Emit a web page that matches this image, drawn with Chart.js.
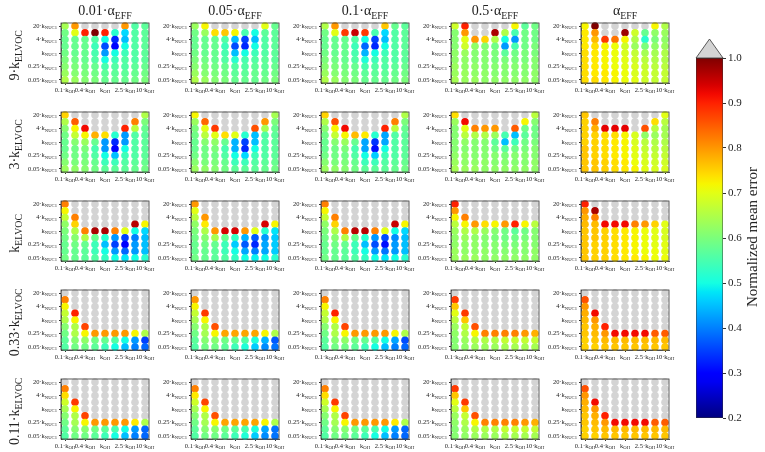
<!DOCTYPE html>
<html>
<head>
<meta charset="utf-8">
<script src="https://cdn.jsdelivr.net/npm/chart.js@4/dist/chart.umd.min.js"></script>
<style>
    body { margin: 0; background: #fff; width: 765px; height: 452px; position: relative; overflow: hidden; font-family: "Liberation Serif", serif; color: #222; }
    canvas { position: absolute; }
    .coltitle { position: absolute; width: 130px; text-align: center; font-size: 14px; line-height: 16px; }
    .rowtitle { position: absolute; width: 110px; text-align: center; font-size: 14px; line-height: 16px; transform: rotate(-90deg); }
    .cblabel { position: absolute; width: 220px; text-align: center; font-size: 15px; line-height: 16px; transform: rotate(-90deg); }
    sub { font-size: 70%; }
</style>
</head>
<body>
<script>
// axis ticks (9x9 grid, labels every other step)
const xTickVals = [0, 2, 4, 6, 8]
const xTickLabels = ["0.1·k_OH", "0.4·k_OH", "k_OH", "2.5·k_OH", "10·k_OH"]
const yTickVals = [0, 2, 4, 6, 8]
const yTickLabels = ["20·k_NUC1", "4·k_NUC1", "k_NUC1", "0.25·k_NUC1", "0.05·k_NUC1"]
const colTitles = ["0.01·α_EFF", "0.05·α_EFF", "0.1·α_EFF", "0.5·α_EFF", "α_EFF"]
const rowTitles = ["9·k_ELVOC", "3·k_ELVOC", "k_ELVOC", "0.33·k_ELVOC", "0.11·k_ELVOC"]
const cbTicks = [0.2, 0.3, 0.4, 0.5, 0.6, 0.7, 0.8, 0.9, 1.0]

// normalized mean error, rows top (20·k_NUC1) -> bottom, cols 0.1·k_OH -> 10·k_OH
// values above 1.0 are drawn grey
const k9_a001 = [
    [0.64, 0.80, 1.1, 1.1, 1.1, 1.1, 0.80, 0.56, 0.57],
    [0.59, 0.70, 0.90, 1.00, 0.90, 0.52, 0.47, 0.56, 0.57],
    [0.58, 0.58, 0.58, 0.56, 0.50, 0.33, 0.45, 0.56, 0.57],
    [0.58, 0.58, 0.58, 0.54, 0.36, 0.30, 0.50, 0.56, 0.57],
    [0.59, 0.58, 0.58, 0.55, 0.42, 0.50, 0.54, 0.56, 0.57],
    [0.60, 0.59, 0.58, 0.56, 0.50, 0.54, 0.56, 0.56, 0.57],
    [0.61, 0.60, 0.59, 0.58, 0.55, 0.56, 0.56, 0.57, 0.58],
    [0.63, 0.61, 0.60, 0.59, 0.57, 0.57, 0.57, 0.58, 0.59],
    [0.65, 0.63, 0.61, 0.60, 0.58, 0.58, 0.58, 0.59, 0.60],
]
const k9_a005 = [
    [0.63, 0.72, 1.1, 1.1, 1.1, 1.1, 1.1, 0.70, 0.58],
    [0.59, 0.63, 0.74, 0.76, 0.72, 0.55, 0.50, 0.57, 0.57],
    [0.58, 0.58, 0.58, 0.56, 0.45, 0.35, 0.45, 0.56, 0.57],
    [0.58, 0.58, 0.58, 0.54, 0.36, 0.33, 0.50, 0.56, 0.57],
    [0.59, 0.58, 0.58, 0.55, 0.45, 0.50, 0.54, 0.56, 0.57],
    [0.60, 0.59, 0.58, 0.56, 0.52, 0.55, 0.56, 0.57, 0.57],
    [0.61, 0.60, 0.59, 0.58, 0.56, 0.56, 0.57, 0.57, 0.58],
    [0.63, 0.61, 0.60, 0.59, 0.57, 0.57, 0.58, 0.58, 0.59],
    [0.65, 0.63, 0.61, 0.60, 0.58, 0.58, 0.58, 0.59, 0.60],
]
const k9_a01 = [
    [0.65, 0.80, 1.1, 1.1, 1.1, 1.1, 0.76, 0.58, 0.57],
    [0.59, 0.70, 0.88, 0.95, 0.88, 0.55, 0.47, 0.56, 0.57],
    [0.58, 0.58, 0.58, 0.56, 0.50, 0.35, 0.45, 0.56, 0.57],
    [0.58, 0.58, 0.58, 0.54, 0.38, 0.33, 0.50, 0.56, 0.57],
    [0.59, 0.58, 0.58, 0.55, 0.44, 0.50, 0.54, 0.56, 0.57],
    [0.60, 0.59, 0.58, 0.56, 0.51, 0.54, 0.56, 0.56, 0.57],
    [0.61, 0.60, 0.59, 0.58, 0.55, 0.56, 0.56, 0.57, 0.58],
    [0.63, 0.61, 0.60, 0.59, 0.57, 0.57, 0.57, 0.58, 0.59],
    [0.65, 0.63, 0.61, 0.60, 0.58, 0.58, 0.58, 0.59, 0.60],
]
const k9_a05 = [
    [0.68, 0.90, 1.1, 1.1, 1.1, 1.1, 0.72, 0.57, 0.59],
    [0.61, 0.80, 1.1, 1.1, 0.97, 0.65, 0.55, 0.59, 0.59],
    [0.61, 0.70, 0.80, 0.75, 0.65, 0.50, 0.42, 0.59, 0.59],
    [0.61, 0.68, 0.62, 0.61, 0.59, 0.42, 0.55, 0.59, 0.60],
    [0.62, 0.63, 0.61, 0.61, 0.60, 0.57, 0.59, 0.60, 0.60],
    [0.62, 0.62, 0.61, 0.61, 0.60, 0.60, 0.60, 0.60, 0.61],
    [0.63, 0.62, 0.62, 0.61, 0.61, 0.61, 0.61, 0.61, 0.61],
    [0.63, 0.63, 0.62, 0.62, 0.61, 0.61, 0.61, 0.61, 0.62],
    [0.64, 0.63, 0.63, 0.62, 0.62, 0.62, 0.62, 0.62, 0.62],
]
const k9_a1 = [
    [0.72, 1.00, 1.1, 1.1, 1.1, 1.1, 1.1, 0.72, 0.65],
    [0.73, 0.80, 1.1, 1.1, 0.98, 0.68, 0.58, 0.62, 0.63],
    [0.73, 0.77, 0.88, 0.83, 0.72, 0.65, 0.52, 0.60, 0.62],
    [0.73, 0.74, 0.72, 0.71, 0.68, 0.63, 0.60, 0.62, 0.63],
    [0.74, 0.73, 0.72, 0.71, 0.69, 0.67, 0.64, 0.64, 0.65],
    [0.74, 0.73, 0.72, 0.71, 0.70, 0.68, 0.66, 0.65, 0.65],
    [0.74, 0.73, 0.72, 0.71, 0.70, 0.69, 0.67, 0.66, 0.66],
    [0.74, 0.73, 0.73, 0.72, 0.71, 0.69, 0.68, 0.67, 0.67],
    [0.74, 0.74, 0.73, 0.72, 0.71, 0.70, 0.68, 0.67, 0.67],
]
const k3_a001 = [
    [0.75, 1.1, 1.1, 1.1, 1.1, 1.1, 1.1, 1.1, 0.65],
    [0.65, 0.85, 1.1, 1.1, 1.1, 1.1, 1.1, 0.82, 0.60],
    [0.61, 0.72, 0.92, 1.1, 1.1, 1.1, 0.90, 0.66, 0.58],
    [0.59, 0.67, 0.72, 0.78, 0.74, 0.52, 0.42, 0.56, 0.57],
    [0.58, 0.61, 0.63, 0.58, 0.42, 0.33, 0.42, 0.56, 0.57],
    [0.58, 0.59, 0.60, 0.55, 0.42, 0.30, 0.50, 0.56, 0.57],
    [0.59, 0.59, 0.59, 0.56, 0.50, 0.45, 0.54, 0.56, 0.57],
    [0.61, 0.60, 0.60, 0.58, 0.54, 0.54, 0.56, 0.57, 0.58],
    [0.63, 0.62, 0.61, 0.59, 0.57, 0.57, 0.57, 0.58, 0.59],
]
const k3_a005 = [
    [0.72, 1.1, 1.1, 1.1, 1.1, 1.1, 1.1, 1.1, 0.64],
    [0.63, 0.84, 1.1, 1.1, 1.1, 1.1, 1.1, 0.80, 0.60],
    [0.60, 0.70, 0.88, 1.1, 1.1, 1.1, 0.86, 0.64, 0.58],
    [0.59, 0.66, 0.70, 0.74, 0.70, 0.52, 0.45, 0.56, 0.57],
    [0.58, 0.61, 0.62, 0.58, 0.44, 0.35, 0.45, 0.56, 0.57],
    [0.58, 0.59, 0.60, 0.55, 0.44, 0.33, 0.50, 0.56, 0.57],
    [0.59, 0.59, 0.59, 0.56, 0.50, 0.47, 0.54, 0.56, 0.57],
    [0.61, 0.60, 0.60, 0.58, 0.54, 0.54, 0.56, 0.57, 0.58],
    [0.63, 0.62, 0.61, 0.59, 0.57, 0.57, 0.57, 0.58, 0.59],
]
const k3_a01 = [
    [0.75, 1.1, 1.1, 1.1, 1.1, 1.1, 1.1, 1.1, 0.65],
    [0.65, 0.86, 1.1, 1.1, 1.1, 1.1, 1.1, 0.82, 0.60],
    [0.61, 0.72, 0.92, 1.1, 1.1, 1.1, 0.90, 0.66, 0.58],
    [0.59, 0.67, 0.72, 0.77, 0.73, 0.52, 0.43, 0.56, 0.57],
    [0.58, 0.61, 0.63, 0.58, 0.43, 0.34, 0.43, 0.56, 0.57],
    [0.58, 0.59, 0.60, 0.55, 0.43, 0.31, 0.50, 0.56, 0.57],
    [0.59, 0.59, 0.59, 0.56, 0.50, 0.46, 0.54, 0.56, 0.57],
    [0.61, 0.60, 0.60, 0.58, 0.54, 0.54, 0.56, 0.57, 0.58],
    [0.63, 0.62, 0.61, 0.59, 0.57, 0.57, 0.57, 0.58, 0.59],
]
const k3_a05 = [
    [0.74, 1.1, 1.1, 1.1, 1.1, 1.1, 1.1, 1.1, 0.66],
    [0.63, 0.92, 1.1, 1.1, 1.1, 1.1, 1.1, 0.72, 0.61],
    [0.61, 0.70, 0.82, 0.80, 0.80, 1.1, 0.85, 0.59, 0.59],
    [0.61, 0.66, 0.65, 0.65, 0.63, 0.55, 0.45, 0.57, 0.59],
    [0.61, 0.62, 0.61, 0.61, 0.57, 0.45, 0.54, 0.59, 0.60],
    [0.61, 0.61, 0.61, 0.61, 0.59, 0.57, 0.59, 0.60, 0.61],
    [0.62, 0.62, 0.61, 0.61, 0.61, 0.60, 0.61, 0.61, 0.61],
    [0.63, 0.62, 0.62, 0.62, 0.61, 0.61, 0.61, 0.61, 0.62],
    [0.64, 0.63, 0.63, 0.62, 0.62, 0.62, 0.62, 0.62, 0.62],
]
const k3_a1 = [
    [0.76, 1.1, 1.1, 1.1, 1.1, 1.1, 1.1, 1.1, 0.70],
    [0.75, 0.82, 1.1, 1.1, 1.1, 1.1, 1.1, 0.74, 0.66],
    [0.75, 0.78, 0.93, 0.93, 0.93, 1.1, 0.86, 0.66, 0.64],
    [0.75, 0.75, 0.74, 0.74, 0.72, 0.69, 0.62, 0.63, 0.64],
    [0.75, 0.75, 0.74, 0.73, 0.72, 0.69, 0.66, 0.65, 0.65],
    [0.76, 0.75, 0.74, 0.73, 0.72, 0.70, 0.67, 0.66, 0.66],
    [0.76, 0.75, 0.74, 0.73, 0.72, 0.70, 0.68, 0.67, 0.67],
    [0.76, 0.76, 0.75, 0.74, 0.73, 0.71, 0.69, 0.68, 0.68],
    [0.76, 0.76, 0.75, 0.74, 0.73, 0.72, 0.70, 0.69, 0.69],
]
const k1_a001 = [
    [0.82, 1.1, 1.1, 1.1, 1.1, 1.1, 1.1, 1.1, 1.1],
    [0.72, 1.1, 1.1, 1.1, 1.1, 1.1, 1.1, 1.1, 1.1],
    [0.67, 0.82, 1.1, 1.1, 1.1, 1.1, 1.1, 1.1, 1.1],
    [0.62, 0.75, 1.1, 1.1, 1.1, 1.1, 1.1, 0.96, 0.72],
    [0.60, 0.65, 0.82, 0.97, 0.97, 0.82, 0.70, 0.50, 0.47],
    [0.59, 0.61, 0.65, 0.58, 0.52, 0.42, 0.35, 0.40, 0.45],
    [0.58, 0.59, 0.58, 0.54, 0.45, 0.35, 0.30, 0.42, 0.45],
    [0.58, 0.58, 0.57, 0.54, 0.50, 0.42, 0.38, 0.42, 0.45],
    [0.59, 0.58, 0.57, 0.56, 0.53, 0.50, 0.48, 0.50, 0.52],
]
const k1_a005 = [
    [0.80, 1.1, 1.1, 1.1, 1.1, 1.1, 1.1, 1.1, 1.1],
    [0.70, 1.1, 1.1, 1.1, 1.1, 1.1, 1.1, 1.1, 1.1],
    [0.66, 0.80, 1.1, 1.1, 1.1, 1.1, 1.1, 1.1, 1.1],
    [0.62, 0.73, 1.1, 1.1, 1.1, 1.1, 1.1, 0.94, 0.72],
    [0.60, 0.65, 0.80, 0.94, 0.94, 0.80, 0.70, 0.52, 0.48],
    [0.59, 0.61, 0.64, 0.58, 0.53, 0.44, 0.37, 0.42, 0.46],
    [0.58, 0.59, 0.58, 0.54, 0.46, 0.37, 0.33, 0.43, 0.46],
    [0.58, 0.58, 0.57, 0.54, 0.50, 0.43, 0.40, 0.43, 0.46],
    [0.59, 0.58, 0.57, 0.56, 0.53, 0.50, 0.49, 0.50, 0.52],
]
const k1_a01 = [
    [0.82, 1.1, 1.1, 1.1, 1.1, 1.1, 1.1, 1.1, 1.1],
    [0.72, 1.1, 1.1, 1.1, 1.1, 1.1, 1.1, 1.1, 1.1],
    [0.67, 0.82, 1.1, 1.1, 1.1, 1.1, 1.1, 1.1, 1.1],
    [0.62, 0.75, 1.1, 1.1, 1.1, 1.1, 1.1, 0.95, 0.72],
    [0.60, 0.65, 0.82, 0.96, 0.96, 0.82, 0.70, 0.50, 0.47],
    [0.59, 0.61, 0.65, 0.58, 0.52, 0.42, 0.36, 0.41, 0.45],
    [0.58, 0.59, 0.58, 0.54, 0.45, 0.36, 0.31, 0.42, 0.45],
    [0.58, 0.58, 0.57, 0.54, 0.50, 0.42, 0.39, 0.42, 0.45],
    [0.59, 0.58, 0.57, 0.56, 0.53, 0.50, 0.48, 0.50, 0.52],
]
const k1_a05 = [
    [0.90, 1.1, 1.1, 1.1, 1.1, 1.1, 1.1, 1.1, 1.1],
    [0.80, 1.1, 1.1, 1.1, 1.1, 1.1, 1.1, 1.1, 1.1],
    [0.72, 0.82, 1.1, 1.1, 1.1, 1.1, 1.1, 1.1, 1.1],
    [0.66, 0.72, 0.80, 0.74, 0.72, 0.80, 0.90, 0.72, 0.66],
    [0.63, 0.65, 0.65, 0.63, 0.61, 0.59, 0.57, 0.59, 0.61],
    [0.62, 0.63, 0.62, 0.61, 0.60, 0.59, 0.59, 0.60, 0.61],
    [0.62, 0.62, 0.62, 0.61, 0.61, 0.60, 0.60, 0.61, 0.61],
    [0.63, 0.62, 0.62, 0.62, 0.61, 0.61, 0.61, 0.61, 0.62],
    [0.63, 0.63, 0.63, 0.62, 0.62, 0.62, 0.62, 0.62, 0.62],
]
const k1_a1 = [
    [0.90, 1.1, 1.1, 1.1, 1.1, 1.1, 1.1, 1.1, 1.1],
    [0.80, 0.97, 1.1, 1.1, 1.1, 1.1, 1.1, 1.1, 1.1],
    [0.78, 0.82, 1.1, 1.1, 1.1, 1.1, 1.1, 1.1, 1.1],
    [0.77, 0.77, 0.92, 0.92, 0.92, 0.82, 0.80, 0.75, 0.70],
    [0.76, 0.76, 0.75, 0.74, 0.73, 0.72, 0.71, 0.70, 0.69],
    [0.76, 0.76, 0.75, 0.74, 0.73, 0.72, 0.71, 0.70, 0.69],
    [0.76, 0.75, 0.75, 0.74, 0.73, 0.72, 0.71, 0.70, 0.70],
    [0.76, 0.75, 0.75, 0.74, 0.73, 0.72, 0.71, 0.71, 0.70],
    [0.76, 0.75, 0.75, 0.74, 0.73, 0.73, 0.72, 0.71, 0.71],
]
const k033_a001 = [
    [1.1, 1.1, 1.1, 1.1, 1.1, 1.1, 1.1, 1.1, 1.1],
    [0.82, 1.1, 1.1, 1.1, 1.1, 1.1, 1.1, 1.1, 1.1],
    [0.72, 1.1, 1.1, 1.1, 1.1, 1.1, 1.1, 1.1, 1.1],
    [0.67, 0.90, 1.1, 1.1, 1.1, 1.1, 1.1, 1.1, 1.1],
    [0.65, 0.72, 1.1, 1.1, 1.1, 1.1, 1.1, 1.1, 1.1],
    [0.61, 0.65, 0.87, 1.1, 1.1, 1.1, 1.1, 1.1, 1.1],
    [0.59, 0.65, 0.72, 0.80, 0.80, 0.80, 0.80, 0.72, 0.65],
    [0.57, 0.61, 0.62, 0.59, 0.58, 0.56, 0.50, 0.42, 0.35],
    [0.56, 0.59, 0.59, 0.57, 0.54, 0.50, 0.45, 0.40, 0.38],
]
const k033_a005 = [
    [1.1, 1.1, 1.1, 1.1, 1.1, 1.1, 1.1, 1.1, 1.1],
    [0.80, 1.1, 1.1, 1.1, 1.1, 1.1, 1.1, 1.1, 1.1],
    [0.72, 1.1, 1.1, 1.1, 1.1, 1.1, 1.1, 1.1, 1.1],
    [0.67, 0.88, 1.1, 1.1, 1.1, 1.1, 1.1, 1.1, 1.1],
    [0.64, 0.72, 1.1, 1.1, 1.1, 1.1, 1.1, 1.1, 1.1],
    [0.61, 0.65, 0.86, 1.1, 1.1, 1.1, 1.1, 1.1, 1.1],
    [0.59, 0.64, 0.72, 0.79, 0.79, 0.79, 0.79, 0.72, 0.65],
    [0.57, 0.61, 0.61, 0.59, 0.58, 0.56, 0.51, 0.44, 0.37],
    [0.56, 0.59, 0.59, 0.57, 0.54, 0.51, 0.46, 0.41, 0.39],
]
const k033_a01 = [
    [1.1, 1.1, 1.1, 1.1, 1.1, 1.1, 1.1, 1.1, 1.1],
    [0.82, 1.1, 1.1, 1.1, 1.1, 1.1, 1.1, 1.1, 1.1],
    [0.72, 1.1, 1.1, 1.1, 1.1, 1.1, 1.1, 1.1, 1.1],
    [0.67, 0.90, 1.1, 1.1, 1.1, 1.1, 1.1, 1.1, 1.1],
    [0.65, 0.72, 1.1, 1.1, 1.1, 1.1, 1.1, 1.1, 1.1],
    [0.61, 0.65, 0.87, 1.1, 1.1, 1.1, 1.1, 1.1, 1.1],
    [0.59, 0.65, 0.72, 0.80, 0.80, 0.80, 0.80, 0.72, 0.65],
    [0.57, 0.61, 0.62, 0.59, 0.58, 0.56, 0.50, 0.43, 0.36],
    [0.56, 0.59, 0.59, 0.57, 0.54, 0.50, 0.45, 0.40, 0.38],
]
const k033_a05 = [
    [1.1, 1.1, 1.1, 1.1, 1.1, 1.1, 1.1, 1.1, 1.1],
    [0.88, 1.1, 1.1, 1.1, 1.1, 1.1, 1.1, 1.1, 1.1],
    [0.76, 1.1, 1.1, 1.1, 1.1, 1.1, 1.1, 1.1, 1.1],
    [0.70, 0.88, 1.1, 1.1, 1.1, 1.1, 1.1, 1.1, 1.1],
    [0.66, 0.76, 1.1, 1.1, 1.1, 1.1, 1.1, 1.1, 1.1],
    [0.63, 0.67, 0.86, 1.1, 1.1, 1.1, 1.1, 1.1, 1.1],
    [0.62, 0.65, 0.72, 0.82, 0.82, 0.82, 0.82, 0.80, 0.78],
    [0.61, 0.63, 0.65, 0.65, 0.65, 0.67, 0.67, 0.67, 0.67],
    [0.61, 0.62, 0.63, 0.63, 0.63, 0.64, 0.64, 0.64, 0.64],
]
const k033_a1 = [
    [1.1, 1.1, 1.1, 1.1, 1.1, 1.1, 1.1, 1.1, 1.1],
    [0.86, 1.1, 1.1, 1.1, 1.1, 1.1, 1.1, 1.1, 1.1],
    [0.80, 1.1, 1.1, 1.1, 1.1, 1.1, 1.1, 1.1, 1.1],
    [0.78, 0.92, 1.1, 1.1, 1.1, 1.1, 1.1, 1.1, 1.1],
    [0.77, 0.80, 1.1, 1.1, 1.1, 1.1, 1.1, 1.1, 1.1],
    [0.76, 0.78, 0.90, 1.1, 1.1, 1.1, 1.1, 1.1, 1.1],
    [0.76, 0.77, 0.80, 0.92, 0.92, 0.92, 0.92, 0.85, 0.85],
    [0.75, 0.76, 0.77, 0.77, 0.77, 0.77, 0.77, 0.77, 0.77],
    [0.75, 0.75, 0.76, 0.76, 0.76, 0.76, 0.76, 0.76, 0.76],
]
const k011_a001 = [
    [1.1, 1.1, 1.1, 1.1, 1.1, 1.1, 1.1, 1.1, 1.1],
    [0.82, 1.1, 1.1, 1.1, 1.1, 1.1, 1.1, 1.1, 1.1],
    [0.74, 1.1, 1.1, 1.1, 1.1, 1.1, 1.1, 1.1, 1.1],
    [0.68, 0.88, 1.1, 1.1, 1.1, 1.1, 1.1, 1.1, 1.1],
    [0.64, 0.72, 1.1, 1.1, 1.1, 1.1, 1.1, 1.1, 1.1],
    [0.61, 0.65, 0.87, 1.1, 1.1, 1.1, 1.1, 1.1, 1.1],
    [0.59, 0.64, 0.72, 0.80, 0.80, 0.80, 0.80, 0.73, 0.65],
    [0.57, 0.61, 0.61, 0.59, 0.57, 0.55, 0.50, 0.42, 0.38],
    [0.56, 0.59, 0.59, 0.57, 0.54, 0.50, 0.45, 0.40, 0.38],
]
const k011_a005 = [
    [1.1, 1.1, 1.1, 1.1, 1.1, 1.1, 1.1, 1.1, 1.1],
    [0.82, 1.1, 1.1, 1.1, 1.1, 1.1, 1.1, 1.1, 1.1],
    [0.73, 1.1, 1.1, 1.1, 1.1, 1.1, 1.1, 1.1, 1.1],
    [0.68, 0.87, 1.1, 1.1, 1.1, 1.1, 1.1, 1.1, 1.1],
    [0.64, 0.72, 1.1, 1.1, 1.1, 1.1, 1.1, 1.1, 1.1],
    [0.61, 0.65, 0.86, 1.1, 1.1, 1.1, 1.1, 1.1, 1.1],
    [0.59, 0.64, 0.72, 0.79, 0.79, 0.79, 0.79, 0.72, 0.65],
    [0.57, 0.61, 0.61, 0.59, 0.57, 0.55, 0.51, 0.43, 0.39],
    [0.56, 0.59, 0.59, 0.57, 0.54, 0.51, 0.46, 0.41, 0.39],
]
const k011_a01 = [
    [1.1, 1.1, 1.1, 1.1, 1.1, 1.1, 1.1, 1.1, 1.1],
    [0.82, 1.1, 1.1, 1.1, 1.1, 1.1, 1.1, 1.1, 1.1],
    [0.74, 1.1, 1.1, 1.1, 1.1, 1.1, 1.1, 1.1, 1.1],
    [0.68, 0.88, 1.1, 1.1, 1.1, 1.1, 1.1, 1.1, 1.1],
    [0.64, 0.72, 1.1, 1.1, 1.1, 1.1, 1.1, 1.1, 1.1],
    [0.61, 0.65, 0.87, 1.1, 1.1, 1.1, 1.1, 1.1, 1.1],
    [0.59, 0.64, 0.72, 0.80, 0.80, 0.80, 0.80, 0.73, 0.65],
    [0.57, 0.61, 0.61, 0.59, 0.57, 0.55, 0.50, 0.42, 0.38],
    [0.56, 0.59, 0.59, 0.57, 0.54, 0.50, 0.45, 0.40, 0.38],
]
const k011_a05 = [
    [1.1, 1.1, 1.1, 1.1, 1.1, 1.1, 1.1, 1.1, 1.1],
    [0.88, 1.1, 1.1, 1.1, 1.1, 1.1, 1.1, 1.1, 1.1],
    [0.76, 1.1, 1.1, 1.1, 1.1, 1.1, 1.1, 1.1, 1.1],
    [0.70, 0.88, 1.1, 1.1, 1.1, 1.1, 1.1, 1.1, 1.1],
    [0.66, 0.76, 1.1, 1.1, 1.1, 1.1, 1.1, 1.1, 1.1],
    [0.63, 0.67, 0.86, 1.1, 1.1, 1.1, 1.1, 1.1, 1.1],
    [0.62, 0.65, 0.72, 0.82, 0.82, 0.82, 0.82, 0.80, 0.78],
    [0.61, 0.63, 0.65, 0.65, 0.65, 0.67, 0.67, 0.67, 0.67],
    [0.61, 0.62, 0.63, 0.63, 0.63, 0.64, 0.64, 0.64, 0.64],
]
const k011_a1 = [
    [1.1, 1.1, 1.1, 1.1, 1.1, 1.1, 1.1, 1.1, 1.1],
    [0.86, 1.1, 1.1, 1.1, 1.1, 1.1, 1.1, 1.1, 1.1],
    [0.80, 1.1, 1.1, 1.1, 1.1, 1.1, 1.1, 1.1, 1.1],
    [0.78, 0.92, 1.1, 1.1, 1.1, 1.1, 1.1, 1.1, 1.1],
    [0.77, 0.80, 1.1, 1.1, 1.1, 1.1, 1.1, 1.1, 1.1],
    [0.76, 0.78, 0.90, 1.1, 1.1, 1.1, 1.1, 1.1, 1.1],
    [0.76, 0.77, 0.80, 0.92, 0.92, 0.92, 0.92, 0.85, 0.85],
    [0.75, 0.76, 0.77, 0.77, 0.77, 0.77, 0.77, 0.77, 0.77],
    [0.75, 0.75, 0.76, 0.76, 0.76, 0.76, 0.76, 0.76, 0.76],
]

const panels = [
    [k9_a001, k9_a005, k9_a01, k9_a05, k9_a1],
    [k3_a001, k3_a005, k3_a01, k3_a05, k3_a1],
    [k1_a001, k1_a005, k1_a01, k1_a05, k1_a1],
    [k033_a001, k033_a005, k033_a01, k033_a05, k033_a1],
    [k011_a001, k011_a005, k011_a01, k011_a05, k011_a1],
]

// matplotlib "jet", value range 0.2 .. 1.0, grey above
const vMin = 0.2, vMax = 1.0
const jetR = [[0, 0], [0.35, 0], [0.66, 1], [0.89, 1], [1, 0.5]]
const jetG = [[0, 0], [0.125, 0], [0.375, 1], [0.64, 1], [0.91, 0], [1, 0]]
const jetB = [[0, 0.5], [0.11, 1], [0.34, 1], [0.65, 0], [1, 0]]
function seg(pts, t) {
    for (let i = 1; i < pts.length; i++) {
        if (t <= pts[i][0]) {
            const [x0, y0] = pts[i - 1], [x1, y1] = pts[i]
            return y0 + (y1 - y0) * (t - x0) / (x1 - x0)
        }
    }
    return pts[pts.length - 1][1]
}
function jet(v) {
    if (v > vMax) return "#d4d4d4"
    const t = Math.max(0, (v - vMin) / (vMax - vMin))
    const c = [jetR, jetG, jetB].map(p => Math.round(seg(p, t) * 255))
    return `rgb(${c[0]},${c[1]},${c[2]})`
}

const serif = "'Liberation Serif', 'DejaVu Serif', serif"
const subHtml = s => s.replace(/_(\w+)/, "<sub>$1</sub>")

// draw "main_sub" text on canvas with a small lowered subscript
function drawSub(ctx, text, x, y, align, size) {
    const [main, sub] = text.split("_")
    ctx.font = size + "px " + serif
    const w1 = ctx.measureText(main).width
    ctx.font = (size * 0.72) + "px " + serif
    const w2 = sub ? ctx.measureText(sub).width : 0
    let x0 = x
    if (align === "right") x0 = x - w1 - w2
    if (align === "center") x0 = x - (w1 + w2) / 2
    ctx.textAlign = "left"
    ctx.font = size + "px " + serif
    ctx.fillText(main, x0, y)
    if (sub) {
        ctx.font = (size * 0.72) + "px " + serif
        ctx.fillText(sub, x0 + w1, y + size * 0.3)
    }
}

const frameAndLabels = {
    id: "frameAndLabels",
    afterDraw(chart) {
        const { ctx, chartArea: a, scales } = chart
        ctx.save()
        ctx.strokeStyle = "#333"
        ctx.lineWidth = 0.8
        ctx.strokeRect(a.left, a.top, a.right - a.left, a.bottom - a.top)
        ctx.fillStyle = "#222"
        ctx.textBaseline = "middle"
        xTickVals.forEach((v, i) =>
            drawSub(ctx, xTickLabels[i], scales.x.getPixelForValue(v), a.bottom + 7, "center", 6.5))
        yTickVals.forEach((v, i) =>
            drawSub(ctx, yTickLabels[i], a.left - 4, scales.y.getPixelForValue(v), "right", 6.5))
        ctx.restore()
    },
}

// panel geometry (plot frame)
const frameLeft0 = 61, frameStepX = 130, frameW = 88
const frameTop0 = 23, frameStepY = 89, frameH = 60
const padL = 42, padT = 5, padR = 14, padB = 14

function addCanvas(left, top, w, h) {
    const cv = document.createElement("canvas")
    cv.width = w
    cv.height = h
    cv.style.left = left + "px"
    cv.style.top = top + "px"
    document.body.appendChild(cv)
    return cv
}

panels.forEach((row, r) => {
    row.forEach((grid, c) => {
        const fl = frameLeft0 + c * frameStepX
        const ft = frameTop0 + r * frameStepY
        const cv = addCanvas(fl - padL, ft - padT, padL + frameW + padR, padT + frameH + padB)
        const pts = []
        const colors = []
        grid.forEach((vals, ri) => vals.forEach((v, ci) => {
            pts.push({ x: ci, y: ri })
            colors.push(jet(v))
        }))
        new Chart(cv, {
            type: "scatter",
            data: {
                datasets: [{
                    data: pts,
                    pointRadius: 3.8,
                    pointHoverRadius: 3.8,
                    pointBorderWidth: 0,
                    pointBackgroundColor: colors,
                    clip: false,
                }],
            },
            options: {
                animation: false,
                responsive: false,
                events: [],
                layout: { padding: { left: 0, top: padT, right: padR, bottom: 0 } },
                plugins: { legend: { display: false }, tooltip: { enabled: false } },
                scales: {
                    x: {
                        type: "linear", min: -0.4, max: 8.4,
                        afterBuildTicks: s => { s.ticks = xTickVals.map(v => ({ value: v })) },
                        afterFit: s => { s.height = padB },
                        ticks: { display: false },
                        grid: { drawOnChartArea: false, tickLength: 2, color: "#333" },
                        border: { color: "#333", width: 0.8 },
                    },
                    y: {
                        type: "linear", min: -0.45, max: 8.45, reverse: true,
                        afterBuildTicks: s => { s.ticks = yTickVals.map(v => ({ value: v })) },
                        afterFit: s => { s.width = padL },
                        ticks: { display: false },
                        grid: { drawOnChartArea: false, tickLength: 2, color: "#333" },
                        border: { color: "#333", width: 0.8 },
                    },
                },
            },
            plugins: [frameAndLabels],
        })
    })
})

// column and row titles
colTitles.forEach((t, c) => {
    const d = document.createElement("div")
    d.className = "coltitle"
    d.innerHTML = subHtml(t)
    d.style.left = (frameLeft0 + c * frameStepX + frameW / 2 - 65) + "px"
    d.style.top = "3px"
    document.body.appendChild(d)
})
rowTitles.forEach((t, r) => {
    const d = document.createElement("div")
    d.className = "rowtitle"
    d.innerHTML = subHtml(t)
    const cy = frameTop0 + r * frameStepY + frameH / 2
    d.style.left = (17 - 55) + "px"
    d.style.top = (cy - 8) + "px"
    document.body.appendChild(d)
})

// colorbar
const cbCanvas = addCanvas(690, 30, 70, 400)
const cbTriangle = {
    id: "cbTriangle",
    afterDraw(chart) {
        const { ctx, chartArea: a } = chart
        ctx.save()
        ctx.beginPath()
        ctx.moveTo(a.left, a.top)
        ctx.lineTo((a.left + a.right) / 2, a.top - 19)
        ctx.lineTo(a.right, a.top)
        ctx.closePath()
        ctx.fillStyle = "#d4d4d4"
        ctx.fill()
        ctx.strokeStyle = "#333"
        ctx.lineWidth = 0.8
        ctx.stroke()
        ctx.restore()
    },
}
new Chart(cbCanvas, {
    type: "bar",
    data: {
        labels: [""],
        datasets: [{
            data: [[vMin, vMax]],
            backgroundColor: (ctx) => {
                const a = ctx.chart.chartArea
                if (!a) return "#888"
                const g = ctx.chart.ctx.createLinearGradient(0, a.bottom, 0, a.top)
                for (let i = 0; i <= 40; i++) g.addColorStop(i / 40, jet(vMin + (vMax - vMin) * i / 40))
                return g
            },
            borderColor: "#333",
            borderWidth: 0.8,
            borderSkipped: false,
            barPercentage: 1,
            categoryPercentage: 1,
        }],
    },
    options: {
        animation: false,
        responsive: false,
        events: [],
        layout: { padding: { left: 6, top: 28, right: 0, bottom: 12 } },
        plugins: { legend: { display: false }, tooltip: { enabled: false } },
        scales: {
            x: { display: false },
            y: {
                position: "right", min: vMin, max: vMax,
                afterBuildTicks: s => { s.ticks = cbTicks.map(v => ({ value: v })) },
                afterFit: s => { s.width = 37 },
                ticks: { callback: v => v.toFixed(1), color: "#222", padding: 2, font: { family: serif, size: 11 } },
                grid: { drawOnChartArea: false, tickLength: 3, color: "#333" },
                border: { display: false },
            },
        },
    },
    plugins: [cbTriangle],
})
const cbl = document.createElement("div")
cbl.className = "cblabel"
cbl.textContent = "Normalized mean error"
cbl.style.left = (752 - 110) + "px"
cbl.style.top = (237 - 8) + "px"
document.body.appendChild(cbl)
</script>
</body>
</html>
